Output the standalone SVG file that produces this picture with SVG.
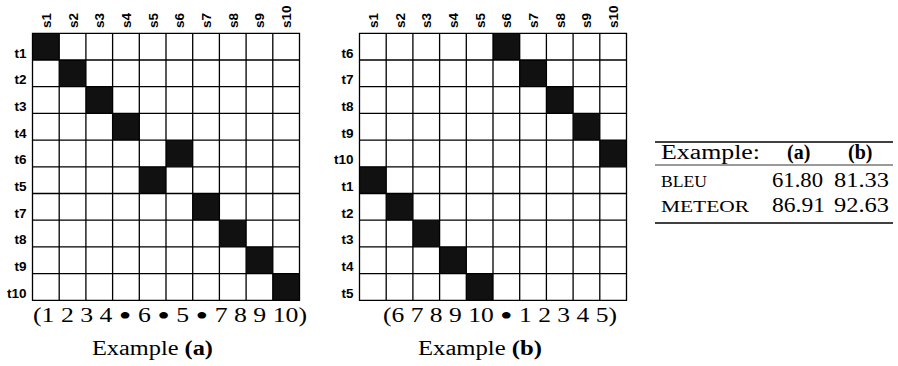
<svg xmlns="http://www.w3.org/2000/svg" width="898" height="366" viewBox="0 0 898 366">
<style>
.bg{fill:#fff}
.cell{fill:#111}
.grid{stroke:#000;stroke-width:1.3;fill:none}
.lab{font-family:"Liberation Sans",Arial,sans-serif;font-weight:bold;font-size:13.5px;fill:#000}
.row{text-anchor:end}
.ser{font-family:"Liberation Serif","Times New Roman",serif;font-size:20px;fill:#000}
.bul{font-size:28px}
.tab{font-family:"Liberation Serif","Times New Roman",serif;font-size:20px;fill:#000}
.sc{font-size:16px}
.rule{stroke:#000}
</style>
<defs>
<g id="gridlines">
<path class="grid" d="M0,0H267V267H0Z M26.7,0V267 M53.4,0V267 M80.1,0V267 M106.8,0V267 M133.5,0V267 M160.2,0V267 M186.9,0V267 M213.6,0V267 M240.3,0V267 M0,26.7H267 M0,53.4H267 M0,80.1H267 M0,106.8H267 M0,133.5H267 M0,160.2H267 M0,186.9H267 M0,213.6H267 M0,240.3H267"/>
</g>
</defs>
<rect class="bg" x="0" y="0" width="898" height="366"/>

<g id="matrix-a">
<g transform="translate(32.5,33.3)">
<rect class="cell" x="0" y="0" width="26.7" height="26.7"/>
<rect class="cell" x="26.7" y="26.7" width="26.7" height="26.7"/>
<rect class="cell" x="53.4" y="53.4" width="26.7" height="26.7"/>
<rect class="cell" x="80.1" y="80.1" width="26.7" height="26.7"/>
<rect class="cell" x="133.5" y="106.8" width="26.7" height="26.7"/>
<rect class="cell" x="106.8" y="133.5" width="26.7" height="26.7"/>
<rect class="cell" x="160.2" y="160.2" width="26.7" height="26.7"/>
<rect class="cell" x="186.9" y="186.9" width="26.7" height="26.7"/>
<rect class="cell" x="213.6" y="213.6" width="26.7" height="26.7"/>
<rect class="cell" x="240.3" y="240.3" width="26.7" height="26.7"/>
<use href="#gridlines"/>
</g>
<g class="lab row">
<text x="26.5" y="57.5">t1</text>
<text x="26.5" y="84.2">t2</text>
<text x="26.5" y="110.9">t3</text>
<text x="26.5" y="137.6">t4</text>
<text x="26.5" y="164.3">t6</text>
<text x="26.5" y="191">t5</text>
<text x="26.5" y="217.7">t7</text>
<text x="26.5" y="244.4">t8</text>
<text x="26.5" y="271.1">t9</text>
<text x="26.5" y="297.8">t10</text>
</g>
<g class="lab">
<text transform="translate(50.8,28) rotate(-90)">s1</text>
<text transform="translate(77.5,28) rotate(-90)">s2</text>
<text transform="translate(104.2,28) rotate(-90)">s3</text>
<text transform="translate(130.9,28) rotate(-90)">s4</text>
<text transform="translate(157.6,28) rotate(-90)">s5</text>
<text transform="translate(184.3,28) rotate(-90)">s6</text>
<text transform="translate(211,28) rotate(-90)">s7</text>
<text transform="translate(237.7,28) rotate(-90)">s8</text>
<text transform="translate(264.4,28) rotate(-90)">s9</text>
<text transform="translate(291.1,28) rotate(-90)">s10</text>
</g>
<text class="ser" x="33" y="322" textLength="274" lengthAdjust="spacingAndGlyphs">(1 2 3 4 <tspan class="bul" dy="3">•</tspan><tspan dy="-3"> 6 </tspan><tspan class="bul" dy="3">•</tspan><tspan dy="-3"> 5 </tspan><tspan class="bul" dy="3">•</tspan><tspan dy="-3"> 7 8 9 10)</tspan></text>
<text class="ser" x="92" y="355" textLength="121" lengthAdjust="spacingAndGlyphs">Example <tspan font-weight="bold">(a)</tspan></text>
</g>

<g id="matrix-b">
<g transform="translate(359.5,33.3)">
<rect class="cell" x="133.5" y="0" width="26.7" height="26.7"/>
<rect class="cell" x="160.2" y="26.7" width="26.7" height="26.7"/>
<rect class="cell" x="186.9" y="53.4" width="26.7" height="26.7"/>
<rect class="cell" x="213.6" y="80.1" width="26.7" height="26.7"/>
<rect class="cell" x="240.3" y="106.8" width="26.7" height="26.7"/>
<rect class="cell" x="0" y="133.5" width="26.7" height="26.7"/>
<rect class="cell" x="26.7" y="160.2" width="26.7" height="26.7"/>
<rect class="cell" x="53.4" y="186.9" width="26.7" height="26.7"/>
<rect class="cell" x="80.1" y="213.6" width="26.7" height="26.7"/>
<rect class="cell" x="106.8" y="240.3" width="26.7" height="26.7"/>
<use href="#gridlines"/>
</g>
<g class="lab row">
<text x="353.5" y="57.5">t6</text>
<text x="353.5" y="84.2">t7</text>
<text x="353.5" y="110.9">t8</text>
<text x="353.5" y="137.6">t9</text>
<text x="353.5" y="164.3">t10</text>
<text x="353.5" y="191">t1</text>
<text x="353.5" y="217.7">t2</text>
<text x="353.5" y="244.4">t3</text>
<text x="353.5" y="271.1">t4</text>
<text x="353.5" y="297.8">t5</text>
</g>
<g class="lab">
<text transform="translate(377.8,28) rotate(-90)">s1</text>
<text transform="translate(404.5,28) rotate(-90)">s2</text>
<text transform="translate(431.2,28) rotate(-90)">s3</text>
<text transform="translate(457.9,28) rotate(-90)">s4</text>
<text transform="translate(484.6,28) rotate(-90)">s5</text>
<text transform="translate(511.3,28) rotate(-90)">s6</text>
<text transform="translate(538,28) rotate(-90)">s7</text>
<text transform="translate(564.7,28) rotate(-90)">s8</text>
<text transform="translate(591.4,28) rotate(-90)">s9</text>
<text transform="translate(618.1,28) rotate(-90)">s10</text>
</g>
<text class="ser" x="383" y="322" textLength="234" lengthAdjust="spacingAndGlyphs">(6 7 8 9 10 <tspan class="bul" dy="3">•</tspan><tspan dy="-3"> 1 2 3 4 5)</tspan></text>
<text class="ser" x="418" y="355" textLength="124" lengthAdjust="spacingAndGlyphs">Example <tspan font-weight="bold">(b)</tspan></text>
</g>

<g id="score-table">
<line class="rule" x1="655" y1="142" x2="893" y2="142" stroke-width="1.3"/>
<line class="rule" x1="655" y1="165" x2="893" y2="165" stroke-width="0.8"/>
<line class="rule" x1="655" y1="223" x2="893" y2="223" stroke-width="1.3"/>
<text class="tab" x="661" y="159" textLength="99" lengthAdjust="spacingAndGlyphs">Example:</text>
<text class="tab" x="787" y="159" font-weight="bold">(a)</text>
<text class="tab" x="848" y="159" font-weight="bold">(b)</text>
<text class="tab sc" x="661" y="187" textLength="46" lengthAdjust="spacingAndGlyphs">BLEU</text>
<text class="tab" x="772" y="187" textLength="51" lengthAdjust="spacingAndGlyphs">61.80</text>
<text class="tab" x="834" y="187" textLength="55" lengthAdjust="spacingAndGlyphs">81.33</text>
<text class="tab sc" x="661" y="212" textLength="88" lengthAdjust="spacingAndGlyphs">METEOR</text>
<text class="tab" x="772" y="212" textLength="53" lengthAdjust="spacingAndGlyphs">86.91</text>
<text class="tab" x="834" y="212" textLength="55" lengthAdjust="spacingAndGlyphs">92.63</text>
</g>
</svg>
